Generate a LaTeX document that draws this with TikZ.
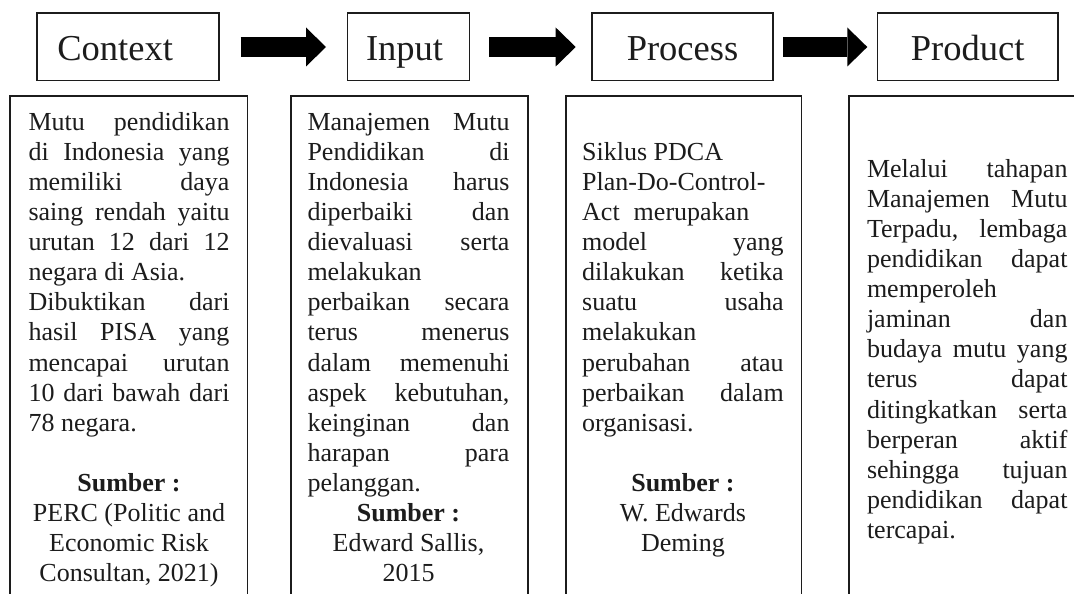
\documentclass[tikz,border=0pt]{standalone}
\usepackage{fontspec}
\setmainfont{Liberation Serif}
\usetikzlibrary{arrows.meta}
\definecolor{ink}{RGB}{28,28,28}
\newlength\colw
\newcommand\lineJ[1]{\makebox[\colw][s]{#1}}
\newcommand\lineL[1]{\makebox[\colw][l]{#1}}
\newcommand\lineC[1]{\makebox[\colw][c]{#1}}
\newcommand\lineB[1]{\makebox[\colw][c]{\bfseries #1}}
\newcommand\textcol[5]{%
  \setlength\colw{#3pt}%
  \foreach \k/\t in {#5} {%
    \node[bodytext] (#1-\k) at (#2, #4+\k*30.13) {\t};
  }%
}
\begin{document}
\begin{tikzpicture}[x=1pt,y=-1pt,
  titlebox/.style={draw=ink, line width=1.6pt, inner sep=0pt, outer sep=0pt,
    minimum height=67.4pt, text height=33pt, text depth=5pt,
    font=\fontsize{36.5}{40}\selectfont, text=ink},
  panel/.style={draw=ink, line width=1.6pt},
  blockarrow/.style={draw=black, line width=19.6pt,
    -{Triangle[length=20pt,width=39pt,line width=0pt]}},
  bodytext/.style={anchor=base west, inner sep=0pt, outer sep=0pt,
    font=\fontsize{26}{30}\selectfont, text=ink}
]
\useasboundingbox (0,0) rectangle (1074,594);
\clip (0,0) rectangle (1074,594);
\fill[white] (0,0) rectangle (1074,594);

% title boxes
\node[titlebox, minimum width=182.3pt] (ctx) at (127.85,47) {\makebox[141pt][l]{Context}};
\node[titlebox, minimum width=122pt] (inp) at (408.3,47) {\makebox[84.5pt][l]{Input}};
\node[titlebox, minimum width=181pt] (proc) at (682.5,47) {Process};
\node[titlebox, minimum width=180.7pt] (prod) at (967.65,47) {Product};

% block arrows
\draw[blockarrow] ([xshift=21.7pt]ctx.east) -- ([xshift=-21.3pt]inp.west);
\draw[blockarrow] ([xshift=20pt]inp.east) -- ([xshift=-16.3pt]proc.west);
\draw[blockarrow] ([xshift=10.3pt]proc.east) -- ([xshift=-10pt]prod.west);

% description panels (open at the bottom)
\draw[panel] (10,95.7) rectangle (247.3,640);
\draw[panel] (291,95.7) rectangle (527.9,640);
\draw[panel] (565.7,95.7) rectangle (801.3,640);
\draw[panel] (849,95.7) rectangle (1110,640);

% texts
\textcol{ctxt}{28.5}{201}{130}{%
 0/{\lineJ{Mutu pendidikan}},
 1/{\lineJ{di Indonesia yang}},
 2/{\lineJ{memiliki daya}},
 3/{\lineJ{saing rendah yaitu}},
 4/{\lineJ{urutan 12 dari 12}},
 5/{\lineL{negara di Asia.}},
 6/{\lineJ{Dibuktikan dari}},
 7/{\lineJ{hasil PISA yang}},
 8/{\lineJ{mencapai urutan}},
 9/{\lineJ{10 dari bawah dari}},
 10/{\lineL{78 negara.}},
 12/{\lineB{Sumber :}},
 13/{\lineC{PERC (Politic and}},
 14/{\lineC{Economic Risk}},
 15/{\lineC{Consultan, 2021)}}}

\textcol{inpt}{307.5}{202}{130}{%
 0/{\lineJ{Manajemen Mutu}},
 1/{\lineJ{Pendidikan di}},
 2/{\lineJ{Indonesia harus}},
 3/{\lineJ{diperbaiki dan}},
 4/{\lineJ{dievaluasi serta}},
 5/{\lineL{melakukan}},
 6/{\lineJ{perbaikan secara}},
 7/{\lineJ{terus menerus}},
 8/{\lineJ{dalam memenuhi}},
 9/{\lineJ{aspek kebutuhan,}},
 10/{\lineJ{keinginan dan}},
 11/{\lineJ{harapan para}},
 12/{\lineL{pelanggan.}},
 13/{\lineB{Sumber :}},
 14/{\lineC{Edward Sallis,}},
 15/{\lineC{2015}}}

\textcol{proct}{582.2}{201.5}{130}{%
 1/{\lineL{Siklus PDCA}},
 2/{\lineL{Plan-Do-Control-}},
 3/{\lineL{Act\hspace{14pt}merupakan}},
 4/{\lineJ{model yang}},
 5/{\lineJ{dilakukan ketika}},
 6/{\lineJ{suatu usaha}},
 7/{\lineL{melakukan}},
 8/{\lineJ{perubahan atau}},
 9/{\lineJ{perbaikan dalam}},
 10/{\lineL{organisasi.}},
 12/{\lineB{Sumber :}},
 13/{\lineC{W. Edwards}},
 14/{\lineC{Deming}}}

\textcol{prodt}{867}{200.5}{177}{%
 0/{\lineJ{Melalui tahapan}},
 1/{\lineJ{Manajemen Mutu}},
 2/{\lineJ{Terpadu, lembaga}},
 3/{\lineJ{pendidikan dapat}},
 4/{\lineL{memperoleh}},
 5/{\lineJ{jaminan dan}},
 6/{\lineJ{budaya mutu yang}},
 7/{\lineJ{terus dapat}},
 8/{\lineJ{ditingkatkan serta}},
 9/{\lineJ{berperan aktif}},
 10/{\lineJ{sehingga tujuan}},
 11/{\lineJ{pendidikan dapat}},
 12/{\lineL{tercapai.}}}
\end{tikzpicture}
\end{document}
